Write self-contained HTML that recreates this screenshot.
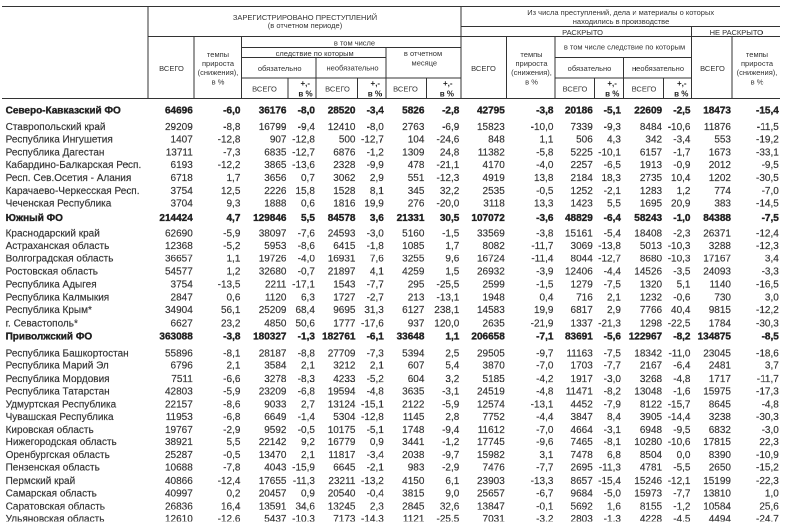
<!DOCTYPE html>
<html><head><meta charset="utf-8"><style>
html,body{margin:0;padding:0;background:#fff;width:800px;height:527px;overflow:hidden;}
body{position:relative;font-family:"Liberation Sans",sans-serif;color:#333;}
.t{position:absolute;white-space:nowrap;line-height:1;}
.d{font-size:20px;-webkit-text-stroke:0.3px currentColor;}
.h{}
.h{font-size:15px;color:#333;}
.c{width:400px;text-align:center;}
.b{font-weight:bold;color:#222;}
.d.b{-webkit-text-stroke:0.7px currentColor;}
.p{font-size:16px;color:#222;}
.l{position:absolute;background:#333;}
</style></head><body><div id="w" style="position:absolute;left:0;top:0;width:1600px;height:1054px;transform:scale(0.5);transform-origin:0 0;will-change:transform;"><div style="position:absolute;left:0;top:0;width:1600px;height:1043px;overflow:hidden">
<div class="l" style="left:4px;top:11.8px;width:1556px;height:2px"></div>
<div class="l" style="left:922px;top:52px;width:638px;height:2px"></div>
<div class="l" style="left:296px;top:72px;width:1264px;height:2px"></div>
<div class="l" style="left:483.4px;top:93.8px;width:438.6px;height:2px"></div>
<div class="l" style="left:483.4px;top:114px;width:288.6px;height:2px"></div>
<div class="l" style="left:1110px;top:114px;width:273px;height:2px"></div>
<div class="l" style="left:483.4px;top:154.8px;width:438.6px;height:2px"></div>
<div class="l" style="left:1110px;top:154.8px;width:273px;height:2px"></div>
<div class="l" style="left:4px;top:196px;width:1556px;height:2px"></div>
<div class="l" style="left:295px;top:11.8px;width:2px;height:186.2px"></div>
<div class="l" style="left:387px;top:72px;width:2px;height:126px"></div>
<div class="l" style="left:482.4px;top:72px;width:2px;height:126px"></div>
<div class="l" style="left:575px;top:154.8px;width:2px;height:43.2px"></div>
<div class="l" style="left:631px;top:114px;width:2px;height:84px"></div>
<div class="l" style="left:713.6px;top:154.8px;width:2px;height:43.2px"></div>
<div class="l" style="left:771px;top:93.8px;width:2px;height:104.2px"></div>
<div class="l" style="left:852px;top:154.8px;width:2px;height:43.2px"></div>
<div class="l" style="left:921px;top:11.8px;width:2px;height:186.2px"></div>
<div class="l" style="left:1012px;top:72px;width:2px;height:126px"></div>
<div class="l" style="left:1109px;top:72px;width:2px;height:126px"></div>
<div class="l" style="left:1188px;top:154.8px;width:2px;height:43.2px"></div>
<div class="l" style="left:1246px;top:114px;width:2px;height:84px"></div>
<div class="l" style="left:1326px;top:154.8px;width:2px;height:43.2px"></div>
<div class="l" style="left:1382px;top:52px;width:2px;height:146px"></div>
<div class="l" style="left:1463px;top:72px;width:2px;height:126px"></div>
<div class="t h c" style="top:26.7px;left:410px;">ЗАРЕГИСТРИРОВАНО ПРЕСТУПЛЕНИЙ</div>
<div class="t h c" style="top:42.9px;left:410px;">(в отчетном периоде)</div>
<div class="t h c" style="top:16.7px;left:1041.4px;">Из числа преступлений, дела и материалы о которых</div>
<div class="t h c" style="top:35.3px;left:1042px;">находились в производстве</div>
<div class="t h c" style="top:56.7px;left:965px;">РАСКРЫТО</div>
<div class="t h c" style="top:56.7px;left:1272.6px;">НЕ РАСКРЫТО</div>
<div class="t h c" style="top:128.9px;left:143px;">ВСЕГО</div>
<div class="t h c" style="top:128.9px;left:767px;">ВСЕГО</div>
<div class="t h c" style="top:128.9px;left:1225px;">ВСЕГО</div>
<div class="t h c" style="top:100.5px;left:236px;">темпы</div>
<div class="t h c" style="top:118.9px;left:236px;">прироста</div>
<div class="t h c" style="top:137.3px;left:236px;">(снижения),</div>
<div class="t h c" style="top:155.7px;left:236px;">в %</div>
<div class="t h c" style="top:100.5px;left:863px;">темпы</div>
<div class="t h c" style="top:118.9px;left:863px;">прироста</div>
<div class="t h c" style="top:137.3px;left:863px;">(снижения),</div>
<div class="t h c" style="top:155.7px;left:863px;">в %</div>
<div class="t h c" style="top:100.5px;left:1314px;">темпы</div>
<div class="t h c" style="top:118.9px;left:1314px;">прироста</div>
<div class="t h c" style="top:137.3px;left:1314px;">(снижения),</div>
<div class="t h c" style="top:155.7px;left:1314px;">в %</div>
<div class="t h c" style="top:78.1px;left:509px;">в том числе</div>
<div class="t h c" style="top:98.7px;left:429.4px;">следствие по которым</div>
<div class="t h c" style="top:128.5px;left:359.4px;">обязательно</div>
<div class="t h c" style="top:128.1px;left:505px;">необязательно</div>
<div class="t h c" style="top:98.7px;left:646px;">в отчетном</div>
<div class="t h c" style="top:118.1px;left:648.6px;">месяце</div>
<div class="t h c" style="top:86.3px;left:1049px;">в том числе следствие по которым</div>
<div class="t h c" style="top:128.5px;left:979px;">обязательно</div>
<div class="t h c" style="top:128.5px;left:1116px;">необязательно</div>
<div class="t h c" style="top:170.1px;left:329px;">ВСЕГО</div>
<div class="t h c" style="top:170.1px;left:475px;">ВСЕГО</div>
<div class="t h c" style="top:170.1px;left:611px;">ВСЕГО</div>
<div class="t h c" style="top:170.1px;left:950px;">ВСЕГО</div>
<div class="t h c" style="top:170.1px;left:1088px;">ВСЕГО</div>
<div class="t h p b" style="top:159.26px;right:980px;">+,-</div>
<div class="t h p b" style="top:179.66px;right:974.8px;">в %</div>
<div class="t h p b" style="top:159.26px;right:839.8px;">+,-</div>
<div class="t h p b" style="top:179.66px;right:836px;">в %</div>
<div class="t h p b" style="top:159.26px;right:695px;">+,-</div>
<div class="t h p b" style="top:179.66px;right:692px;">в %</div>
<div class="t h p b" style="top:159.26px;right:366.2px;">+,-</div>
<div class="t h p b" style="top:179.66px;right:361.2px;">в %</div>
<div class="t h p b" style="top:159.26px;right:227px;">+,-</div>
<div class="t h p b" style="top:179.66px;right:223.2px;">в %</div>
<div class="t d b" style="top:210.07px;left:11.2px;">Северо-Кавказский ФО</div>
<div class="t d b" style="top:210.07px;right:1214.4px;">64696</div>
<div class="t d b" style="top:210.07px;right:1119.2px;">-6,0</div>
<div class="t d b" style="top:210.07px;right:1027px;">36176</div>
<div class="t d b" style="top:210.07px;right:970.2px;">-8,0</div>
<div class="t d b" style="top:210.07px;right:889px;">28520</div>
<div class="t d b" style="top:210.07px;right:832.4px;">-3,4</div>
<div class="t d b" style="top:210.07px;right:751.2px;">5826</div>
<div class="t d b" style="top:210.07px;right:681.4px;">-2,8</div>
<div class="t d b" style="top:210.07px;right:590.4px;">42795</div>
<div class="t d b" style="top:210.07px;right:493.2px;">-3,8</div>
<div class="t d b" style="top:210.07px;right:414.4px;">20186</div>
<div class="t d b" style="top:210.07px;right:358.2px;">-5,1</div>
<div class="t d b" style="top:210.07px;right:275.8px;">22609</div>
<div class="t d b" style="top:210.07px;right:219px;">-2,5</div>
<div class="t d b" style="top:210.07px;right:138px;">18473</div>
<div class="t d b" style="top:210.07px;right:42.4px;">-15,4</div>
<div class="t d" style="top:243.47px;left:11.2px;">Ставропольский край</div>
<div class="t d" style="top:243.47px;right:1214.4px;">29209</div>
<div class="t d" style="top:243.47px;right:1119.2px;">-8,8</div>
<div class="t d" style="top:243.47px;right:1027px;">16799</div>
<div class="t d" style="top:243.47px;right:970.2px;">-9,4</div>
<div class="t d" style="top:243.47px;right:889px;">12410</div>
<div class="t d" style="top:243.47px;right:832.4px;">-8,0</div>
<div class="t d" style="top:243.47px;right:751.2px;">2763</div>
<div class="t d" style="top:243.47px;right:681.4px;">-6,9</div>
<div class="t d" style="top:243.47px;right:590.4px;">15823</div>
<div class="t d" style="top:243.47px;right:493.2px;">-10,0</div>
<div class="t d" style="top:243.47px;right:414.4px;">7339</div>
<div class="t d" style="top:243.47px;right:358.2px;">-9,3</div>
<div class="t d" style="top:243.47px;right:275.8px;">8484</div>
<div class="t d" style="top:243.47px;right:219px;">-10,6</div>
<div class="t d" style="top:243.47px;right:138px;">11876</div>
<div class="t d" style="top:243.47px;right:42.4px;">-11,5</div>
<div class="t d" style="top:268.07px;left:11.2px;">Республика Ингушетия</div>
<div class="t d" style="top:268.07px;right:1214.4px;">1407</div>
<div class="t d" style="top:268.07px;right:1119.2px;">-12,8</div>
<div class="t d" style="top:268.07px;right:1027px;">907</div>
<div class="t d" style="top:268.07px;right:970.2px;">-12,8</div>
<div class="t d" style="top:268.07px;right:889px;">500</div>
<div class="t d" style="top:268.07px;right:832.4px;">-12,7</div>
<div class="t d" style="top:268.07px;right:751.2px;">104</div>
<div class="t d" style="top:268.07px;right:681.4px;">-24,6</div>
<div class="t d" style="top:268.07px;right:590.4px;">848</div>
<div class="t d" style="top:268.07px;right:493.2px;">1,1</div>
<div class="t d" style="top:268.07px;right:414.4px;">506</div>
<div class="t d" style="top:268.07px;right:358.2px;">4,3</div>
<div class="t d" style="top:268.07px;right:275.8px;">342</div>
<div class="t d" style="top:268.07px;right:219px;">-3,4</div>
<div class="t d" style="top:268.07px;right:138px;">553</div>
<div class="t d" style="top:268.07px;right:42.4px;">-19,2</div>
<div class="t d" style="top:293.67px;left:11.2px;">Республика Дагестан</div>
<div class="t d" style="top:293.67px;right:1214.4px;">13711</div>
<div class="t d" style="top:293.67px;right:1119.2px;">-7,3</div>
<div class="t d" style="top:293.67px;right:1027px;">6835</div>
<div class="t d" style="top:293.67px;right:970.2px;">-12,7</div>
<div class="t d" style="top:293.67px;right:889px;">6876</div>
<div class="t d" style="top:293.67px;right:832.4px;">-1,2</div>
<div class="t d" style="top:293.67px;right:751.2px;">1309</div>
<div class="t d" style="top:293.67px;right:681.4px;">24,8</div>
<div class="t d" style="top:293.67px;right:590.4px;">11382</div>
<div class="t d" style="top:293.67px;right:493.2px;">-5,8</div>
<div class="t d" style="top:293.67px;right:414.4px;">5225</div>
<div class="t d" style="top:293.67px;right:358.2px;">-10,1</div>
<div class="t d" style="top:293.67px;right:275.8px;">6157</div>
<div class="t d" style="top:293.67px;right:219px;">-1,7</div>
<div class="t d" style="top:293.67px;right:138px;">1673</div>
<div class="t d" style="top:293.67px;right:42.4px;">-33,1</div>
<div class="t d" style="top:318.87px;left:11.2px;">Кабардино-Балкарская Респ.</div>
<div class="t d" style="top:318.87px;right:1214.4px;">6193</div>
<div class="t d" style="top:318.87px;right:1119.2px;">-12,2</div>
<div class="t d" style="top:318.87px;right:1027px;">3865</div>
<div class="t d" style="top:318.87px;right:970.2px;">-13,6</div>
<div class="t d" style="top:318.87px;right:889px;">2328</div>
<div class="t d" style="top:318.87px;right:832.4px;">-9,9</div>
<div class="t d" style="top:318.87px;right:751.2px;">478</div>
<div class="t d" style="top:318.87px;right:681.4px;">-21,1</div>
<div class="t d" style="top:318.87px;right:590.4px;">4170</div>
<div class="t d" style="top:318.87px;right:493.2px;">-4,0</div>
<div class="t d" style="top:318.87px;right:414.4px;">2257</div>
<div class="t d" style="top:318.87px;right:358.2px;">-6,5</div>
<div class="t d" style="top:318.87px;right:275.8px;">1913</div>
<div class="t d" style="top:318.87px;right:219px;">-0,9</div>
<div class="t d" style="top:318.87px;right:138px;">2012</div>
<div class="t d" style="top:318.87px;right:42.4px;">-9,5</div>
<div class="t d" style="top:345.07px;left:11.2px;">Респ. Сев.Осетия - Алания</div>
<div class="t d" style="top:345.07px;right:1214.4px;">6718</div>
<div class="t d" style="top:345.07px;right:1119.2px;">1,7</div>
<div class="t d" style="top:345.07px;right:1027px;">3656</div>
<div class="t d" style="top:345.07px;right:970.2px;">0,7</div>
<div class="t d" style="top:345.07px;right:889px;">3062</div>
<div class="t d" style="top:345.07px;right:832.4px;">2,9</div>
<div class="t d" style="top:345.07px;right:751.2px;">551</div>
<div class="t d" style="top:345.07px;right:681.4px;">-12,3</div>
<div class="t d" style="top:345.07px;right:590.4px;">4919</div>
<div class="t d" style="top:345.07px;right:493.2px;">13,8</div>
<div class="t d" style="top:345.07px;right:414.4px;">2184</div>
<div class="t d" style="top:345.07px;right:358.2px;">18,3</div>
<div class="t d" style="top:345.07px;right:275.8px;">2735</div>
<div class="t d" style="top:345.07px;right:219px;">10,4</div>
<div class="t d" style="top:345.07px;right:138px;">1202</div>
<div class="t d" style="top:345.07px;right:42.4px;">-30,5</div>
<div class="t d" style="top:370.87px;left:11.2px;">Карачаево-Черкесская Респ.</div>
<div class="t d" style="top:370.87px;right:1214.4px;">3754</div>
<div class="t d" style="top:370.87px;right:1119.2px;">12,5</div>
<div class="t d" style="top:370.87px;right:1027px;">2226</div>
<div class="t d" style="top:370.87px;right:970.2px;">15,8</div>
<div class="t d" style="top:370.87px;right:889px;">1528</div>
<div class="t d" style="top:370.87px;right:832.4px;">8,1</div>
<div class="t d" style="top:370.87px;right:751.2px;">345</div>
<div class="t d" style="top:370.87px;right:681.4px;">32,2</div>
<div class="t d" style="top:370.87px;right:590.4px;">2535</div>
<div class="t d" style="top:370.87px;right:493.2px;">-0,5</div>
<div class="t d" style="top:370.87px;right:414.4px;">1252</div>
<div class="t d" style="top:370.87px;right:358.2px;">-2,1</div>
<div class="t d" style="top:370.87px;right:275.8px;">1283</div>
<div class="t d" style="top:370.87px;right:219px;">1,2</div>
<div class="t d" style="top:370.87px;right:138px;">774</div>
<div class="t d" style="top:370.87px;right:42.4px;">-7,0</div>
<div class="t d" style="top:396.47px;left:11.2px;">Чеченская Республика</div>
<div class="t d" style="top:396.47px;right:1214.4px;">3704</div>
<div class="t d" style="top:396.47px;right:1119.2px;">9,3</div>
<div class="t d" style="top:396.47px;right:1027px;">1888</div>
<div class="t d" style="top:396.47px;right:970.2px;">0,6</div>
<div class="t d" style="top:396.47px;right:889px;">1816</div>
<div class="t d" style="top:396.47px;right:832.4px;">19,9</div>
<div class="t d" style="top:396.47px;right:751.2px;">276</div>
<div class="t d" style="top:396.47px;right:681.4px;">-20,0</div>
<div class="t d" style="top:396.47px;right:590.4px;">3118</div>
<div class="t d" style="top:396.47px;right:493.2px;">13,3</div>
<div class="t d" style="top:396.47px;right:414.4px;">1423</div>
<div class="t d" style="top:396.47px;right:358.2px;">5,5</div>
<div class="t d" style="top:396.47px;right:275.8px;">1695</div>
<div class="t d" style="top:396.47px;right:219px;">20,9</div>
<div class="t d" style="top:396.47px;right:138px;">383</div>
<div class="t d" style="top:396.47px;right:42.4px;">-14,5</div>
<div class="t d b" style="top:424.87px;left:11.2px;">Южный ФО</div>
<div class="t d b" style="top:424.87px;right:1214.4px;">214424</div>
<div class="t d b" style="top:424.87px;right:1119.2px;">4,7</div>
<div class="t d b" style="top:424.87px;right:1027px;">129846</div>
<div class="t d b" style="top:424.87px;right:970.2px;">5,5</div>
<div class="t d b" style="top:424.87px;right:889px;">84578</div>
<div class="t d b" style="top:424.87px;right:832.4px;">3,6</div>
<div class="t d b" style="top:424.87px;right:751.2px;">21331</div>
<div class="t d b" style="top:424.87px;right:681.4px;">30,5</div>
<div class="t d b" style="top:424.87px;right:590.4px;">107072</div>
<div class="t d b" style="top:424.87px;right:493.2px;">-3,6</div>
<div class="t d b" style="top:424.87px;right:414.4px;">48829</div>
<div class="t d b" style="top:424.87px;right:358.2px;">-6,4</div>
<div class="t d b" style="top:424.87px;right:275.8px;">58243</div>
<div class="t d b" style="top:424.87px;right:219px;">-1,0</div>
<div class="t d b" style="top:424.87px;right:138px;">84388</div>
<div class="t d b" style="top:424.87px;right:42.4px;">-7,5</div>
<div class="t d" style="top:455.87px;left:11.2px;">Краснодарский край</div>
<div class="t d" style="top:455.87px;right:1214.4px;">62690</div>
<div class="t d" style="top:455.87px;right:1119.2px;">-5,9</div>
<div class="t d" style="top:455.87px;right:1027px;">38097</div>
<div class="t d" style="top:455.87px;right:970.2px;">-7,6</div>
<div class="t d" style="top:455.87px;right:889px;">24593</div>
<div class="t d" style="top:455.87px;right:832.4px;">-3,0</div>
<div class="t d" style="top:455.87px;right:751.2px;">5160</div>
<div class="t d" style="top:455.87px;right:681.4px;">-1,5</div>
<div class="t d" style="top:455.87px;right:590.4px;">33569</div>
<div class="t d" style="top:455.87px;right:493.2px;">-3,8</div>
<div class="t d" style="top:455.87px;right:414.4px;">15161</div>
<div class="t d" style="top:455.87px;right:358.2px;">-5,4</div>
<div class="t d" style="top:455.87px;right:275.8px;">18408</div>
<div class="t d" style="top:455.87px;right:219px;">-2,3</div>
<div class="t d" style="top:455.87px;right:138px;">26371</div>
<div class="t d" style="top:455.87px;right:42.4px;">-12,4</div>
<div class="t d" style="top:480.87px;left:11.2px;">Астраханская область</div>
<div class="t d" style="top:480.87px;right:1214.4px;">12368</div>
<div class="t d" style="top:480.87px;right:1119.2px;">-5,2</div>
<div class="t d" style="top:480.87px;right:1027px;">5953</div>
<div class="t d" style="top:480.87px;right:970.2px;">-8,6</div>
<div class="t d" style="top:480.87px;right:889px;">6415</div>
<div class="t d" style="top:480.87px;right:832.4px;">-1,8</div>
<div class="t d" style="top:480.87px;right:751.2px;">1085</div>
<div class="t d" style="top:480.87px;right:681.4px;">1,7</div>
<div class="t d" style="top:480.87px;right:590.4px;">8082</div>
<div class="t d" style="top:480.87px;right:493.2px;">-11,7</div>
<div class="t d" style="top:480.87px;right:414.4px;">3069</div>
<div class="t d" style="top:480.87px;right:358.2px;">-13,8</div>
<div class="t d" style="top:480.87px;right:275.8px;">5013</div>
<div class="t d" style="top:480.87px;right:219px;">-10,3</div>
<div class="t d" style="top:480.87px;right:138px;">3288</div>
<div class="t d" style="top:480.87px;right:42.4px;">-12,3</div>
<div class="t d" style="top:506.47px;left:11.2px;">Волгоградская область</div>
<div class="t d" style="top:506.47px;right:1214.4px;">36657</div>
<div class="t d" style="top:506.47px;right:1119.2px;">1,1</div>
<div class="t d" style="top:506.47px;right:1027px;">19726</div>
<div class="t d" style="top:506.47px;right:970.2px;">-4,0</div>
<div class="t d" style="top:506.47px;right:889px;">16931</div>
<div class="t d" style="top:506.47px;right:832.4px;">7,6</div>
<div class="t d" style="top:506.47px;right:751.2px;">3255</div>
<div class="t d" style="top:506.47px;right:681.4px;">9,6</div>
<div class="t d" style="top:506.47px;right:590.4px;">16724</div>
<div class="t d" style="top:506.47px;right:493.2px;">-11,4</div>
<div class="t d" style="top:506.47px;right:414.4px;">8044</div>
<div class="t d" style="top:506.47px;right:358.2px;">-12,7</div>
<div class="t d" style="top:506.47px;right:275.8px;">8680</div>
<div class="t d" style="top:506.47px;right:219px;">-10,3</div>
<div class="t d" style="top:506.47px;right:138px;">17167</div>
<div class="t d" style="top:506.47px;right:42.4px;">3,4</div>
<div class="t d" style="top:532.47px;left:11.2px;">Ростовская область</div>
<div class="t d" style="top:532.47px;right:1214.4px;">54577</div>
<div class="t d" style="top:532.47px;right:1119.2px;">1,2</div>
<div class="t d" style="top:532.47px;right:1027px;">32680</div>
<div class="t d" style="top:532.47px;right:970.2px;">-0,7</div>
<div class="t d" style="top:532.47px;right:889px;">21897</div>
<div class="t d" style="top:532.47px;right:832.4px;">4,1</div>
<div class="t d" style="top:532.47px;right:751.2px;">4259</div>
<div class="t d" style="top:532.47px;right:681.4px;">1,5</div>
<div class="t d" style="top:532.47px;right:590.4px;">26932</div>
<div class="t d" style="top:532.47px;right:493.2px;">-3,9</div>
<div class="t d" style="top:532.47px;right:414.4px;">12406</div>
<div class="t d" style="top:532.47px;right:358.2px;">-4,4</div>
<div class="t d" style="top:532.47px;right:275.8px;">14526</div>
<div class="t d" style="top:532.47px;right:219px;">-3,5</div>
<div class="t d" style="top:532.47px;right:138px;">24093</div>
<div class="t d" style="top:532.47px;right:42.4px;">-3,3</div>
<div class="t d" style="top:558.27px;left:11.2px;">Республика Адыгея</div>
<div class="t d" style="top:558.27px;right:1214.4px;">3754</div>
<div class="t d" style="top:558.27px;right:1119.2px;">-13,5</div>
<div class="t d" style="top:558.27px;right:1027px;">2211</div>
<div class="t d" style="top:558.27px;right:970.2px;">-17,1</div>
<div class="t d" style="top:558.27px;right:889px;">1543</div>
<div class="t d" style="top:558.27px;right:832.4px;">-7,7</div>
<div class="t d" style="top:558.27px;right:751.2px;">295</div>
<div class="t d" style="top:558.27px;right:681.4px;">-25,5</div>
<div class="t d" style="top:558.27px;right:590.4px;">2599</div>
<div class="t d" style="top:558.27px;right:493.2px;">-1,5</div>
<div class="t d" style="top:558.27px;right:414.4px;">1279</div>
<div class="t d" style="top:558.27px;right:358.2px;">-7,5</div>
<div class="t d" style="top:558.27px;right:275.8px;">1320</div>
<div class="t d" style="top:558.27px;right:219px;">5,1</div>
<div class="t d" style="top:558.27px;right:138px;">1140</div>
<div class="t d" style="top:558.27px;right:42.4px;">-16,5</div>
<div class="t d" style="top:584.07px;left:11.2px;">Республика Калмыкия</div>
<div class="t d" style="top:584.07px;right:1214.4px;">2847</div>
<div class="t d" style="top:584.07px;right:1119.2px;">0,6</div>
<div class="t d" style="top:584.07px;right:1027px;">1120</div>
<div class="t d" style="top:584.07px;right:970.2px;">6,3</div>
<div class="t d" style="top:584.07px;right:889px;">1727</div>
<div class="t d" style="top:584.07px;right:832.4px;">-2,7</div>
<div class="t d" style="top:584.07px;right:751.2px;">213</div>
<div class="t d" style="top:584.07px;right:681.4px;">-13,1</div>
<div class="t d" style="top:584.07px;right:590.4px;">1948</div>
<div class="t d" style="top:584.07px;right:493.2px;">0,4</div>
<div class="t d" style="top:584.07px;right:414.4px;">716</div>
<div class="t d" style="top:584.07px;right:358.2px;">2,1</div>
<div class="t d" style="top:584.07px;right:275.8px;">1232</div>
<div class="t d" style="top:584.07px;right:219px;">-0,6</div>
<div class="t d" style="top:584.07px;right:138px;">730</div>
<div class="t d" style="top:584.07px;right:42.4px;">3,0</div>
<div class="t d" style="top:609.47px;left:11.2px;">Республика Крым*</div>
<div class="t d" style="top:609.47px;right:1214.4px;">34904</div>
<div class="t d" style="top:609.47px;right:1119.2px;">56,1</div>
<div class="t d" style="top:609.47px;right:1027px;">25209</div>
<div class="t d" style="top:609.47px;right:970.2px;">68,4</div>
<div class="t d" style="top:609.47px;right:889px;">9695</div>
<div class="t d" style="top:609.47px;right:832.4px;">31,3</div>
<div class="t d" style="top:609.47px;right:751.2px;">6127</div>
<div class="t d" style="top:609.47px;right:681.4px;">238,1</div>
<div class="t d" style="top:609.47px;right:590.4px;">14583</div>
<div class="t d" style="top:609.47px;right:493.2px;">19,9</div>
<div class="t d" style="top:609.47px;right:414.4px;">6817</div>
<div class="t d" style="top:609.47px;right:358.2px;">2,9</div>
<div class="t d" style="top:609.47px;right:275.8px;">7766</div>
<div class="t d" style="top:609.47px;right:219px;">40,4</div>
<div class="t d" style="top:609.47px;right:138px;">9815</div>
<div class="t d" style="top:609.47px;right:42.4px;">-12,2</div>
<div class="t d" style="top:635.87px;left:11.2px;">г. Севастополь*</div>
<div class="t d" style="top:635.87px;right:1214.4px;">6627</div>
<div class="t d" style="top:635.87px;right:1119.2px;">23,2</div>
<div class="t d" style="top:635.87px;right:1027px;">4850</div>
<div class="t d" style="top:635.87px;right:970.2px;">50,6</div>
<div class="t d" style="top:635.87px;right:889px;">1777</div>
<div class="t d" style="top:635.87px;right:832.4px;">-17,6</div>
<div class="t d" style="top:635.87px;right:751.2px;">937</div>
<div class="t d" style="top:635.87px;right:681.4px;">120,0</div>
<div class="t d" style="top:635.87px;right:590.4px;">2635</div>
<div class="t d" style="top:635.87px;right:493.2px;">-21,9</div>
<div class="t d" style="top:635.87px;right:414.4px;">1337</div>
<div class="t d" style="top:635.87px;right:358.2px;">-21,3</div>
<div class="t d" style="top:635.87px;right:275.8px;">1298</div>
<div class="t d" style="top:635.87px;right:219px;">-22,5</div>
<div class="t d" style="top:635.87px;right:138px;">1784</div>
<div class="t d" style="top:635.87px;right:42.4px;">-30,3</div>
<div class="t d b" style="top:662.07px;left:11.2px;">Приволжский ФО</div>
<div class="t d b" style="top:662.07px;right:1214.4px;">363088</div>
<div class="t d b" style="top:662.07px;right:1119.2px;">-3,8</div>
<div class="t d b" style="top:662.07px;right:1027px;">180327</div>
<div class="t d b" style="top:662.07px;right:970.2px;">-1,3</div>
<div class="t d b" style="top:662.07px;right:889px;">182761</div>
<div class="t d b" style="top:662.07px;right:832.4px;">-6,1</div>
<div class="t d b" style="top:662.07px;right:751.2px;">33648</div>
<div class="t d b" style="top:662.07px;right:681.4px;">1,1</div>
<div class="t d b" style="top:662.07px;right:590.4px;">206658</div>
<div class="t d b" style="top:662.07px;right:493.2px;">-7,1</div>
<div class="t d b" style="top:662.07px;right:414.4px;">83691</div>
<div class="t d b" style="top:662.07px;right:358.2px;">-5,6</div>
<div class="t d b" style="top:662.07px;right:275.8px;">122967</div>
<div class="t d b" style="top:662.07px;right:219px;">-8,2</div>
<div class="t d b" style="top:662.07px;right:138px;">134875</div>
<div class="t d b" style="top:662.07px;right:42.4px;">-8,5</div>
<div class="t d" style="top:696.27px;left:11.2px;">Республика Башкортостан</div>
<div class="t d" style="top:696.27px;right:1214.4px;">55896</div>
<div class="t d" style="top:696.27px;right:1119.2px;">-8,1</div>
<div class="t d" style="top:696.27px;right:1027px;">28187</div>
<div class="t d" style="top:696.27px;right:970.2px;">-8,8</div>
<div class="t d" style="top:696.27px;right:889px;">27709</div>
<div class="t d" style="top:696.27px;right:832.4px;">-7,3</div>
<div class="t d" style="top:696.27px;right:751.2px;">5394</div>
<div class="t d" style="top:696.27px;right:681.4px;">2,5</div>
<div class="t d" style="top:696.27px;right:590.4px;">29505</div>
<div class="t d" style="top:696.27px;right:493.2px;">-9,7</div>
<div class="t d" style="top:696.27px;right:414.4px;">11163</div>
<div class="t d" style="top:696.27px;right:358.2px;">-7,5</div>
<div class="t d" style="top:696.27px;right:275.8px;">18342</div>
<div class="t d" style="top:696.27px;right:219px;">-11,0</div>
<div class="t d" style="top:696.27px;right:138px;">23045</div>
<div class="t d" style="top:696.27px;right:42.4px;">-18,6</div>
<div class="t d" style="top:720.47px;left:11.2px;">Республика Марий Эл</div>
<div class="t d" style="top:720.47px;right:1214.4px;">6796</div>
<div class="t d" style="top:720.47px;right:1119.2px;">2,1</div>
<div class="t d" style="top:720.47px;right:1027px;">3584</div>
<div class="t d" style="top:720.47px;right:970.2px;">2,1</div>
<div class="t d" style="top:720.47px;right:889px;">3212</div>
<div class="t d" style="top:720.47px;right:832.4px;">2,1</div>
<div class="t d" style="top:720.47px;right:751.2px;">607</div>
<div class="t d" style="top:720.47px;right:681.4px;">5,4</div>
<div class="t d" style="top:720.47px;right:590.4px;">3870</div>
<div class="t d" style="top:720.47px;right:493.2px;">-7,0</div>
<div class="t d" style="top:720.47px;right:414.4px;">1703</div>
<div class="t d" style="top:720.47px;right:358.2px;">-7,7</div>
<div class="t d" style="top:720.47px;right:275.8px;">2167</div>
<div class="t d" style="top:720.47px;right:219px;">-6,4</div>
<div class="t d" style="top:720.47px;right:138px;">2481</div>
<div class="t d" style="top:720.47px;right:42.4px;">3,7</div>
<div class="t d" style="top:746.67px;left:11.2px;">Республика Мордовия</div>
<div class="t d" style="top:746.67px;right:1214.4px;">7511</div>
<div class="t d" style="top:746.67px;right:1119.2px;">-6,6</div>
<div class="t d" style="top:746.67px;right:1027px;">3278</div>
<div class="t d" style="top:746.67px;right:970.2px;">-8,3</div>
<div class="t d" style="top:746.67px;right:889px;">4233</div>
<div class="t d" style="top:746.67px;right:832.4px;">-5,2</div>
<div class="t d" style="top:746.67px;right:751.2px;">604</div>
<div class="t d" style="top:746.67px;right:681.4px;">3,2</div>
<div class="t d" style="top:746.67px;right:590.4px;">5185</div>
<div class="t d" style="top:746.67px;right:493.2px;">-4,2</div>
<div class="t d" style="top:746.67px;right:414.4px;">1917</div>
<div class="t d" style="top:746.67px;right:358.2px;">-3,0</div>
<div class="t d" style="top:746.67px;right:275.8px;">3268</div>
<div class="t d" style="top:746.67px;right:219px;">-4,8</div>
<div class="t d" style="top:746.67px;right:138px;">1717</div>
<div class="t d" style="top:746.67px;right:42.4px;">-11,7</div>
<div class="t d" style="top:771.67px;left:11.2px;">Республика Татарстан</div>
<div class="t d" style="top:771.67px;right:1214.4px;">42803</div>
<div class="t d" style="top:771.67px;right:1119.2px;">-5,9</div>
<div class="t d" style="top:771.67px;right:1027px;">23209</div>
<div class="t d" style="top:771.67px;right:970.2px;">-6,8</div>
<div class="t d" style="top:771.67px;right:889px;">19594</div>
<div class="t d" style="top:771.67px;right:832.4px;">-4,8</div>
<div class="t d" style="top:771.67px;right:751.2px;">3635</div>
<div class="t d" style="top:771.67px;right:681.4px;">-3,1</div>
<div class="t d" style="top:771.67px;right:590.4px;">24519</div>
<div class="t d" style="top:771.67px;right:493.2px;">-4,8</div>
<div class="t d" style="top:771.67px;right:414.4px;">11471</div>
<div class="t d" style="top:771.67px;right:358.2px;">-8,2</div>
<div class="t d" style="top:771.67px;right:275.8px;">13048</div>
<div class="t d" style="top:771.67px;right:219px;">-1,6</div>
<div class="t d" style="top:771.67px;right:138px;">15975</div>
<div class="t d" style="top:771.67px;right:42.4px;">-17,3</div>
<div class="t d" style="top:797.87px;left:11.2px;">Удмуртская Республика</div>
<div class="t d" style="top:797.87px;right:1214.4px;">22157</div>
<div class="t d" style="top:797.87px;right:1119.2px;">-8,6</div>
<div class="t d" style="top:797.87px;right:1027px;">9033</div>
<div class="t d" style="top:797.87px;right:970.2px;">2,7</div>
<div class="t d" style="top:797.87px;right:889px;">13124</div>
<div class="t d" style="top:797.87px;right:832.4px;">-15,1</div>
<div class="t d" style="top:797.87px;right:751.2px;">2122</div>
<div class="t d" style="top:797.87px;right:681.4px;">-5,9</div>
<div class="t d" style="top:797.87px;right:590.4px;">12574</div>
<div class="t d" style="top:797.87px;right:493.2px;">-13,1</div>
<div class="t d" style="top:797.87px;right:414.4px;">4452</div>
<div class="t d" style="top:797.87px;right:358.2px;">-7,9</div>
<div class="t d" style="top:797.87px;right:275.8px;">8122</div>
<div class="t d" style="top:797.87px;right:219px;">-15,7</div>
<div class="t d" style="top:797.87px;right:138px;">8645</div>
<div class="t d" style="top:797.87px;right:42.4px;">-4,8</div>
<div class="t d" style="top:822.87px;left:11.2px;">Чувашская Республика</div>
<div class="t d" style="top:822.87px;right:1214.4px;">11953</div>
<div class="t d" style="top:822.87px;right:1119.2px;">-6,8</div>
<div class="t d" style="top:822.87px;right:1027px;">6649</div>
<div class="t d" style="top:822.87px;right:970.2px;">-1,4</div>
<div class="t d" style="top:822.87px;right:889px;">5304</div>
<div class="t d" style="top:822.87px;right:832.4px;">-12,8</div>
<div class="t d" style="top:822.87px;right:751.2px;">1145</div>
<div class="t d" style="top:822.87px;right:681.4px;">2,8</div>
<div class="t d" style="top:822.87px;right:590.4px;">7752</div>
<div class="t d" style="top:822.87px;right:493.2px;">-4,4</div>
<div class="t d" style="top:822.87px;right:414.4px;">3847</div>
<div class="t d" style="top:822.87px;right:358.2px;">8,4</div>
<div class="t d" style="top:822.87px;right:275.8px;">3905</div>
<div class="t d" style="top:822.87px;right:219px;">-14,4</div>
<div class="t d" style="top:822.87px;right:138px;">3238</div>
<div class="t d" style="top:822.87px;right:42.4px;">-30,3</div>
<div class="t d" style="top:848.87px;left:11.2px;">Кировская область</div>
<div class="t d" style="top:848.87px;right:1214.4px;">19767</div>
<div class="t d" style="top:848.87px;right:1119.2px;">-2,9</div>
<div class="t d" style="top:848.87px;right:1027px;">9592</div>
<div class="t d" style="top:848.87px;right:970.2px;">-0,5</div>
<div class="t d" style="top:848.87px;right:889px;">10175</div>
<div class="t d" style="top:848.87px;right:832.4px;">-5,1</div>
<div class="t d" style="top:848.87px;right:751.2px;">1748</div>
<div class="t d" style="top:848.87px;right:681.4px;">-9,4</div>
<div class="t d" style="top:848.87px;right:590.4px;">11612</div>
<div class="t d" style="top:848.87px;right:493.2px;">-7,0</div>
<div class="t d" style="top:848.87px;right:414.4px;">4664</div>
<div class="t d" style="top:848.87px;right:358.2px;">-3,1</div>
<div class="t d" style="top:848.87px;right:275.8px;">6948</div>
<div class="t d" style="top:848.87px;right:219px;">-9,5</div>
<div class="t d" style="top:848.87px;right:138px;">6832</div>
<div class="t d" style="top:848.87px;right:42.4px;">-3,0</div>
<div class="t d" style="top:873.47px;left:11.2px;">Нижегородская область</div>
<div class="t d" style="top:873.47px;right:1214.4px;">38921</div>
<div class="t d" style="top:873.47px;right:1119.2px;">5,5</div>
<div class="t d" style="top:873.47px;right:1027px;">22142</div>
<div class="t d" style="top:873.47px;right:970.2px;">9,2</div>
<div class="t d" style="top:873.47px;right:889px;">16779</div>
<div class="t d" style="top:873.47px;right:832.4px;">0,9</div>
<div class="t d" style="top:873.47px;right:751.2px;">3441</div>
<div class="t d" style="top:873.47px;right:681.4px;">-1,2</div>
<div class="t d" style="top:873.47px;right:590.4px;">17745</div>
<div class="t d" style="top:873.47px;right:493.2px;">-9,6</div>
<div class="t d" style="top:873.47px;right:414.4px;">7465</div>
<div class="t d" style="top:873.47px;right:358.2px;">-8,1</div>
<div class="t d" style="top:873.47px;right:275.8px;">10280</div>
<div class="t d" style="top:873.47px;right:219px;">-10,6</div>
<div class="t d" style="top:873.47px;right:138px;">17815</div>
<div class="t d" style="top:873.47px;right:42.4px;">22,3</div>
<div class="t d" style="top:898.87px;left:11.2px;">Оренбургская область</div>
<div class="t d" style="top:898.87px;right:1214.4px;">25287</div>
<div class="t d" style="top:898.87px;right:1119.2px;">-0,5</div>
<div class="t d" style="top:898.87px;right:1027px;">13470</div>
<div class="t d" style="top:898.87px;right:970.2px;">2,1</div>
<div class="t d" style="top:898.87px;right:889px;">11817</div>
<div class="t d" style="top:898.87px;right:832.4px;">-3,4</div>
<div class="t d" style="top:898.87px;right:751.2px;">2038</div>
<div class="t d" style="top:898.87px;right:681.4px;">-9,7</div>
<div class="t d" style="top:898.87px;right:590.4px;">15982</div>
<div class="t d" style="top:898.87px;right:493.2px;">3,1</div>
<div class="t d" style="top:898.87px;right:414.4px;">7478</div>
<div class="t d" style="top:898.87px;right:358.2px;">6,8</div>
<div class="t d" style="top:898.87px;right:275.8px;">8504</div>
<div class="t d" style="top:898.87px;right:219px;">0,0</div>
<div class="t d" style="top:898.87px;right:138px;">8390</div>
<div class="t d" style="top:898.87px;right:42.4px;">-10,9</div>
<div class="t d" style="top:924.07px;left:11.2px;">Пензенская область</div>
<div class="t d" style="top:924.07px;right:1214.4px;">10688</div>
<div class="t d" style="top:924.07px;right:1119.2px;">-7,8</div>
<div class="t d" style="top:924.07px;right:1027px;">4043</div>
<div class="t d" style="top:924.07px;right:970.2px;">-15,9</div>
<div class="t d" style="top:924.07px;right:889px;">6645</div>
<div class="t d" style="top:924.07px;right:832.4px;">-2,1</div>
<div class="t d" style="top:924.07px;right:751.2px;">983</div>
<div class="t d" style="top:924.07px;right:681.4px;">-2,9</div>
<div class="t d" style="top:924.07px;right:590.4px;">7476</div>
<div class="t d" style="top:924.07px;right:493.2px;">-7,7</div>
<div class="t d" style="top:924.07px;right:414.4px;">2695</div>
<div class="t d" style="top:924.07px;right:358.2px;">-11,3</div>
<div class="t d" style="top:924.07px;right:275.8px;">4781</div>
<div class="t d" style="top:924.07px;right:219px;">-5,5</div>
<div class="t d" style="top:924.07px;right:138px;">2650</div>
<div class="t d" style="top:924.07px;right:42.4px;">-15,2</div>
<div class="t d" style="top:950.87px;left:11.2px;">Пермский край</div>
<div class="t d" style="top:950.87px;right:1214.4px;">40866</div>
<div class="t d" style="top:950.87px;right:1119.2px;">-12,4</div>
<div class="t d" style="top:950.87px;right:1027px;">17655</div>
<div class="t d" style="top:950.87px;right:970.2px;">-11,3</div>
<div class="t d" style="top:950.87px;right:889px;">23211</div>
<div class="t d" style="top:950.87px;right:832.4px;">-13,2</div>
<div class="t d" style="top:950.87px;right:751.2px;">4150</div>
<div class="t d" style="top:950.87px;right:681.4px;">6,1</div>
<div class="t d" style="top:950.87px;right:590.4px;">23903</div>
<div class="t d" style="top:950.87px;right:493.2px;">-13,3</div>
<div class="t d" style="top:950.87px;right:414.4px;">8657</div>
<div class="t d" style="top:950.87px;right:358.2px;">-15,4</div>
<div class="t d" style="top:950.87px;right:275.8px;">15246</div>
<div class="t d" style="top:950.87px;right:219px;">-12,1</div>
<div class="t d" style="top:950.87px;right:138px;">15199</div>
<div class="t d" style="top:950.87px;right:42.4px;">-22,3</div>
<div class="t d" style="top:975.87px;left:11.2px;">Самарская область</div>
<div class="t d" style="top:975.87px;right:1214.4px;">40997</div>
<div class="t d" style="top:975.87px;right:1119.2px;">0,2</div>
<div class="t d" style="top:975.87px;right:1027px;">20457</div>
<div class="t d" style="top:975.87px;right:970.2px;">0,9</div>
<div class="t d" style="top:975.87px;right:889px;">20540</div>
<div class="t d" style="top:975.87px;right:832.4px;">-0,4</div>
<div class="t d" style="top:975.87px;right:751.2px;">3815</div>
<div class="t d" style="top:975.87px;right:681.4px;">9,0</div>
<div class="t d" style="top:975.87px;right:590.4px;">25657</div>
<div class="t d" style="top:975.87px;right:493.2px;">-6,7</div>
<div class="t d" style="top:975.87px;right:414.4px;">9684</div>
<div class="t d" style="top:975.87px;right:358.2px;">-5,0</div>
<div class="t d" style="top:975.87px;right:275.8px;">15973</div>
<div class="t d" style="top:975.87px;right:219px;">-7,7</div>
<div class="t d" style="top:975.87px;right:138px;">13810</div>
<div class="t d" style="top:975.87px;right:42.4px;">1,0</div>
<div class="t d" style="top:1001.67px;left:11.2px;">Саратовская область</div>
<div class="t d" style="top:1001.67px;right:1214.4px;">26836</div>
<div class="t d" style="top:1001.67px;right:1119.2px;">16,4</div>
<div class="t d" style="top:1001.67px;right:1027px;">13591</div>
<div class="t d" style="top:1001.67px;right:970.2px;">34,6</div>
<div class="t d" style="top:1001.67px;right:889px;">13245</div>
<div class="t d" style="top:1001.67px;right:832.4px;">2,3</div>
<div class="t d" style="top:1001.67px;right:751.2px;">2845</div>
<div class="t d" style="top:1001.67px;right:681.4px;">32,6</div>
<div class="t d" style="top:1001.67px;right:590.4px;">13847</div>
<div class="t d" style="top:1001.67px;right:493.2px;">-0,1</div>
<div class="t d" style="top:1001.67px;right:414.4px;">5692</div>
<div class="t d" style="top:1001.67px;right:358.2px;">1,6</div>
<div class="t d" style="top:1001.67px;right:275.8px;">8155</div>
<div class="t d" style="top:1001.67px;right:219px;">-1,2</div>
<div class="t d" style="top:1001.67px;right:138px;">10584</div>
<div class="t d" style="top:1001.67px;right:42.4px;">25,6</div>
<div class="t d" style="top:1026.67px;left:11.2px;">Ульяновская область</div>
<div class="t d" style="top:1026.67px;right:1214.4px;">12610</div>
<div class="t d" style="top:1026.67px;right:1119.2px;">-12,6</div>
<div class="t d" style="top:1026.67px;right:1027px;">5437</div>
<div class="t d" style="top:1026.67px;right:970.2px;">-10,3</div>
<div class="t d" style="top:1026.67px;right:889px;">7173</div>
<div class="t d" style="top:1026.67px;right:832.4px;">-14,3</div>
<div class="t d" style="top:1026.67px;right:751.2px;">1121</div>
<div class="t d" style="top:1026.67px;right:681.4px;">-25,5</div>
<div class="t d" style="top:1026.67px;right:590.4px;">7031</div>
<div class="t d" style="top:1026.67px;right:493.2px;">-3,2</div>
<div class="t d" style="top:1026.67px;right:414.4px;">2803</div>
<div class="t d" style="top:1026.67px;right:358.2px;">-1,3</div>
<div class="t d" style="top:1026.67px;right:275.8px;">4228</div>
<div class="t d" style="top:1026.67px;right:219px;">-4,5</div>
<div class="t d" style="top:1026.67px;right:138px;">4494</div>
<div class="t d" style="top:1026.67px;right:42.4px;">-24,7</div>
</div></div></body></html>
